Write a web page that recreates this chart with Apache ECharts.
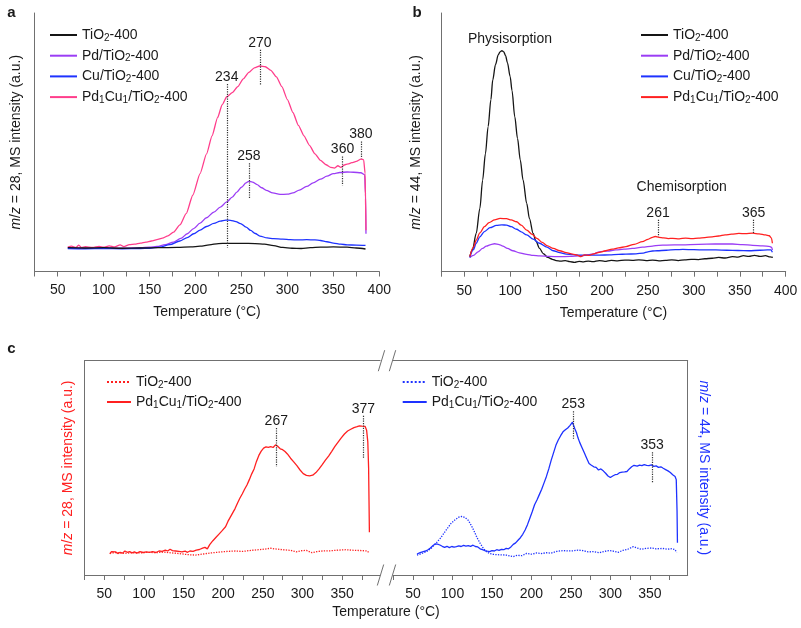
<!DOCTYPE html>
<html><head><meta charset="utf-8">
<script src="https://cdn.jsdelivr.net/npm/echarts@6/dist/echarts.min.js"></script>
<style>html,body{margin:0;padding:0;background:#fff}#c{width:801px;height:628px}</style>
</head><body><div id="c"></div>
<script>
// ---------------- DATA ----------------
// Panel a: m/z = 28, [temperature °C, intensity a.u.]
const aTiO2 = [[61,9.2],[80,9.1],[100,9.2],[120,9.0],[140,9.1],[160,9.2],[180,9.3],[195,9.5],[205,9.8],[215,10.3],[225,10.8],[234,10.9],[250,10.9],[265,10.8],[275,10.6],[285,10.0],[295,9.3],[305,9.0],[315,8.9],[325,9.2],[336,9.4],[350,9.5],[365,9.4],[375,9.1],[385,8.7]];
const aPd = [[61,9.1],[80,9.0],[100,9.1],[120,9.0],[140,9.2],[150,9.4],[158,9.7],[167,10.4],[176,11.4],[184,12.8],[191,14.6],[198,16.6],[205,18.7],[212,20.8],[220,23.0],[227,24.9],[234,26.9],[240,28.8],[245,30.7],[250,32.6],[255,34.3],[258,34.9],[262,34.6],[267,33.6],[272,32.4],[277,31.4],[284,30.4],[292,29.8],[300,29.9],[306,30.4],[313,31.5],[321,32.9],[328,34.3],[336,35.7],[343,36.9],[350,37.9],[357,38.3],[365,38.5],[372,38.4],[380,38.2],[384,37.5],[385,30],[385.5,14.6]];
const aCu = [[61,8.9],[80,8.8],[100,8.9],[120,8.8],[140,8.9],[150,9.0],[161,9.4],[172,10.4],[183,11.8],[191,13.1],[198,14.6],[205,16.0],[212,17.4],[220,18.6],[227,19.5],[233,19.9],[238,19.8],[244,19.3],[249,18.5],[255,17.2],[260,15.9],[265,14.7],[270,13.7],[278,13.0],[285,12.7],[295,12.5],[303,12.3],[312,12.2],[321,12.3],[330,12.2],[336,12.0],[343,11.5],[350,11.0],[358,10.6],[365,10.3],[375,10.2],[385,10.1]];
const aPdCu = [[61,9.4],[65,9.8],[70,9.3],[73,10.2],[76,9.2],[80,9.6],[88,9.3],[95,9.7],[100,9.4],[106,9.9],[112,9.5],[118,10.3],[122,9.6],[128,10.4],[134,10.6],[140,11.0],[146,11.4],[152,11.8],[158,12.3],[164,12.9],[170,13.8],[176,15.2],[183,18.0],[190,22.5],[197,29.5],[205,37.9],[212,45.5],[218,52.5],[224,59.5],[229,64.5],[234,67.6],[240,69.2],[246,71.5],[252,74.5],[258,77.0],[264,78.8],[270,79.5],[276,79.2],[282,77.8],[288,75.3],[294,71.5],[300,66.5],[306,61.5],[312,56.5],[318,52.5],[324,48.8],[330,45.5],[336,43.0],[342,41.3],[347,40.3],[351,40.0],[355,40.9],[358,40.3],[362,41.2],[366,41.6],[370,42.1],[375,42.6],[380,43.5],[383,43.2],[384.5,38.0],[385,28],[385.5,16]];
const aPeakT = [234, 258, 270, 360, 380];
const aPeakTop = [72.5, 41.9, 85.8, 44.5, 50.3];
const aPeakBottom = [9.2, 28.2, 72.1, 33.3, 43.7];

// Panel b: m/z = 44
const bTiO2 = [[56,5.8],[59,8.5],[63,14.8],[67,24.5],[70,35.4],[73,45.5],[76,56.1],[79,66.5],[81,74.1],[84,80.0],[87,83.8],[89,85.0],[91,85.4],[93,85.0],[95,83.5],[97,80.8],[100,75.4],[102,70.0],[105,59.9],[108,51.5],[111,43.2],[114,35.5],[118,26.4],[121,20.5],[125,14.8],[128,11.8],[132,9.0],[136,7.0],[141,5.5],[146,4.8],[150,4.3],[155,4.1],[160,4.3],[165,3.9],[170,3.6],[175,4.0],[180,3.8],[185,4.1],[190,3.9],[197,4.3],[203,4.0],[210,4.4],[217,4.2],[225,4.5],[233,4.4],[240,4.6],[248,4.3],[255,4.5],[262,4.2],[269,4.4],[276,4.6],[283,4.3],[290,4.6],[297,4.8],[305,4.7],[312,5.0],[320,5.2],[327,5.5],[334,5.3],[342,5.8],[348,5.6],[354,6.2],[360,5.9],[366,6.3],[372,5.9],[378,6.2],[383,5.7],[386,5.5]];
const bPd = [[56,5.5],[60,6.3],[65,7.7],[70,9.0],[74,9.9],[79,10.5],[83,10.8],[88,10.5],[92,9.9],[97,9.0],[103,8.1],[110,7.3],[118,6.7],[125,6.3],[132,6.1],[143,5.9],[154,5.8],[165,5.9],[176,6.1],[186,6.6],[192,7.0],[197,7.7],[206,8.0],[215,8.4],[224,8.7],[233,9.0],[244,9.5],[255,9.9],[262,10.2],[270,10.3],[287,10.4],[305,10.6],[323,10.7],[342,10.7],[353,10.5],[364,10.2],[375,10.0],[383,9.7],[385,9.3],[385.5,8.4]];
const bCu = [[56,5.5],[60,8.5],[63,11.0],[67,13.5],[72,15.5],[78,17.0],[85,17.9],[91,18.1],[96,18.0],[101,17.4],[107,16.4],[112,15.4],[118,14.2],[125,12.6],[132,11.0],[140,9.5],[147,8.1],[154,7.4],[161,6.8],[168,6.6],[176,6.4],[186,6.4],[197,6.4],[208,6.5],[218,6.7],[226,6.8],[237,6.9],[245,7.2],[250,7.7],[255,8.0],[260,8.1],[270,8.3],[280,8.5],[288,8.6],[300,8.5],[312,8.4],[324,8.4],[336,8.3],[348,8.2],[360,8.1],[372,8.3],[380,8.4],[384,8.4],[385.5,7.5]];
const bPdCu = [[56,5.8],[60,9.5],[63,12.2],[67,15.0],[72,17.4],[77,19.0],[83,20.0],[89,20.6],[96,20.5],[101,20.0],[107,19.3],[112,18.0],[118,16.1],[124,14.4],[129,12.9],[135,11.3],[140,10.1],[147,9.0],[154,8.1],[161,7.4],[168,6.8],[173,6.4],[177,5.8],[181,6.5],[186,6.3],[190,6.8],[197,7.5],[204,8.1],[211,8.7],[218,9.2],[226,9.7],[235,10.6],[244,11.6],[250,12.5],[255,13.3],[258,13.6],[262,13.3],[267,13.1],[272,12.8],[277,12.9],[284,12.7],[291,13.0],[298,12.8],[305,13.0],[312,13.2],[320,13.5],[327,13.8],[334,14.2],[341,14.5],[349,14.8],[356,14.7],[364,14.9],[371,14.6],[378,14.2],[382,13.9],[384.5,13.0],[385.5,11.0]];
const bPeakT = [261, 365];
const bPeakTop = [20.1, 20.1];
const bPeakBottom = [13.5, 14.8];

// Panel c left: m/z = 28
const cTiO2_28 = [[57,10.2],[65,10.5],[75,10.1],[85,10.4],[95,10.3],[105,10.6],[115,10.4],[125,10.7],[135,10.3],[145,10.0],[155,9.5],[165,9.3],[175,9.8],[185,10.3],[195,10.7],[205,11.0],[215,11.2],[225,11.0],[235,11.5],[245,11.8],[255,12.2],[260,12.5],[265,12.2],[275,11.8],[285,11.5],[292,10.8],[298,11.3],[305,11.5],[312,10.4],[318,10.9],[325,11.2],[335,11.3],[345,11.6],[355,11.8],[365,11.5],[375,11.4],[382,11.2],[384,10.2]];
const cPdCu_28 = [[57,9.8],[59,10.9],[61,10.1],[64,10.8],[67,10.0],[70,10.6],[73,10.2],[76,11.2],[79,10.6],[82,10.9],[85,10.3],[88,10.8],[91,10.2],[95,10.9],[99,10.5],[103,10.8],[107,10.6],[111,10.9],[115,10.5],[119,11.2],[123,11.0],[127,11.6],[130,11.2],[133,12.0],[136,11.4],[140,11.2],[144,11.0],[148,10.8],[152,11.1],[155,10.6],[158,11.2],[162,11.0],[166,11.6],[170,11.9],[174,12.5],[177,12.9],[180,12.2],[183,14.2],[187,16.0],[191,17.6],[195,19.2],[199,20.8],[203,22.5],[206,25.0],[209,27.0],[212,29.0],[215,31.0],[218,33.5],[221,35.8],[224,37.8],[227,40.0],[230,42.0],[233,44.5],[236,47.2],[239,49.5],[242,53.0],[245,55.8],[248,57.8],[251,59.2],[254,59.8],[257,59.6],[260,59.9],[263,59.5],[266,60.7],[269,60.0],[272,58.9],[275,58.5],[278,57.6],[281,56.5],[285,54.5],[289,52.8],[293,51.0],[297,49.0],[301,47.3],[305,46.5],[309,46.3],[313,46.6],[317,47.8],[321,49.5],[325,51.5],[329,53.6],[333,55.5],[337,57.7],[341,60.0],[345,62.0],[349,64.0],[353,65.8],[357,67.2],[361,68.0],[365,68.8],[369,69.2],[372,69.6],[375,69.5],[377,70.0],[379,69.4],[381,67.5],[382.5,62],[383.5,50],[384,35],[384.5,20]];
const cLPeakT = [267, 377];
const cLPeakTop = [68.6, 74.3];
const cLPeakBottom = [50.5, 54.4];

// Panel c right: m/z = 44
const cTiO2_44 = [[55,9.3],[61,10.0],[67,10.9],[73,12.5],[79,14.8],[85,17.3],[92,21.0],[98,24.0],[103,25.7],[108,27.0],[112,27.3],[116,26.8],[120,25.5],[124,23.0],[128,20.0],[131,17.5],[135,14.8],[139,12.5],[143,10.9],[147,10.0],[152,9.6],[160,9.4],[168,9.3],[173,8.9],[177,8.6],[182,9.2],[188,9.0],[194,10.1],[200,9.7],[207,10.3],[213,10.0],[219,10.4],[225,10.2],[232,11.0],[240,11.4],[247,11.2],[253,11.3],[259,11.6],[265,11.4],[272,10.8],[279,10.9],[286,10.4],[292,11.0],[298,11.4],[303,11.2],[310,10.6],[316,11.5],[322,12.0],[329,13.2],[334,12.6],[339,12.0],[345,12.4],[352,12.6],[358,12.2],[366,12.4],[372,12.0],[378,12.3],[382,11.8],[384,10.5]];
const cPdCu_44 = [[55,9.8],[57,9.2],[59,10.4],[61,9.6],[63,10.9],[66,11.2],[69,11.8],[72,12.6],[75,13.6],[78,14.5],[81,14.4],[84,14.0],[87,13.4],[90,12.9],[93,13.4],[96,12.8],[99,13.3],[102,13.0],[105,13.2],[108,13.6],[111,13.3],[114,13.8],[117,13.5],[120,13.7],[123,13.4],[126,13.9],[129,13.3],[132,13.1],[135,12.2],[138,11.8],[141,11.4],[144,11.1],[147,10.9],[150,11.4],[153,11.2],[156,11.8],[159,11.5],[162,12.0],[165,11.8],[168,12.4],[171,12.2],[174,13.1],[177,14.3],[180,15.0],[183,16.2],[186,17.4],[189,19.0],[192,21.0],[195,23.5],[198,26.5],[201,29.5],[204,32.8],[207,35.0],[210,37.5],[213,40.0],[216,43.0],[219,46.0],[222,49.5],[225,53.5],[228,57.0],[231,60.5],[234,63.0],[237,65.0],[240,66.8],[243,67.8],[246,68.6],[249,69.8],[251,70.3],[252,71.3],[253,70.2],[255,68.2],[257,66.5],[259,64.0],[261,62.0],[264,59.5],[267,57.0],[270,54.5],[273,52.0],[276,51.2],[279,50.5],[282,50.2],[285,49.0],[288,49.5],[291,48.6],[294,47.5],[297,46.2],[300,45.5],[303,46.2],[306,46.8],[309,47.0],[312,47.8],[315,48.0],[318,48.1],[321,48.3],[324,49.5],[327,50.5],[330,51.2],[332,51.8],[334,50.8],[337,51.3],[340,51.0],[343,51.5],[346,51.2],[349,51.0],[352,51.4],[355,50.7],[358,50.9],[361,50.2],[364,50.5],[367,49.8],[370,49.2],[373,48.6],[376,47.8],[379,46.8],[382,46.0],[383.5,44.5],[384.5,30],[385,15]];
const cRPeakT = [253, 353];
const cRPeakTop = [76.4, 57.3];
const cRPeakBottom = [63.0, 43.1];

// Axis ticks / labels
const ticksAB = [25,50,75,100,125,150,175,200,225,250,275,300,325,350,375,400];
const labelsAB = [50,100,150,200,250,300,350,400];
const ticksC = [25,50,75,100,125,150,175,200,225,250,275,300,325,350,375];
const labelsC = [50,100,150,200,250,300,350];

// Legend labels (rich text: {s|..} is subscript)
const legendLabels = {
  aT: 'TiO{s|2}-400', aPd: 'Pd/TiO{s|2}-400', aCu: 'Cu/TiO{s|2}-400', aPdCu: 'Pd{s|1}Cu{s|1}/TiO{s|2}-400',
  bT: 'TiO{s|2}-400', bPd: 'Pd/TiO{s|2}-400', bCu: 'Cu/TiO{s|2}-400', bPdCu: 'Pd{s|1}Cu{s|1}/TiO{s|2}-400',
  cLT: 'TiO{s|2}-400', cLPdCu: 'Pd{s|1}Cu{s|1}/TiO{s|2}-400',
  cRT: 'TiO{s|2}-400', cRPdCu: 'Pd{s|1}Cu{s|1}/TiO{s|2}-400'
};

// ---------------- CHART ----------------
const FONT = '"Liberation Sans", Arial, Helvetica, sans-serif';
const TXT = '#1a1a1a';
const AX = '#707070';
const C_BLACK = '#151515', C_PURPLE = '#9B3DF5', C_BLUE = '#1E32FF', C_PINK = '#FF3D8B', C_RED = '#FF2020';

const chart = echarts.init(document.getElementById('c'), null, {renderer: 'canvas'});

function xAx(gi, max, ticks, labels, extra) {
  return Object.assign({
    gridIndex: gi, type: 'value', min: 25, max: max,
    axisLine: {show: true, lineStyle: {color: AX, width: 1}},
    axisTick: {show: true, customValues: ticks, length: 5, lineStyle: {color: AX}},
    axisLabel: {show: true, customValues: labels, fontSize: 14, color: TXT, fontFamily: FONT, margin: 12},
    splitLine: {show: false}
  }, extra || {});
}
function topAx(gi, max) {
  return {gridIndex: gi, type: 'value', min: 25, max: max, position: 'top',
    axisLine: {show: true, lineStyle: {color: AX}}, axisTick: {show: false}, axisLabel: {show: false}, splitLine: {show: false}};
}
function yAx(gi, name, gap, color, pos, rot) {
  return {gridIndex: gi, type: 'value', min: 0, max: 100, position: pos || 'left',
    axisLine: {show: true, lineStyle: {color: AX}}, axisTick: {show: false}, axisLabel: {show: false}, splitLine: {show: false},
    name: name, nameLocation: 'middle', nameGap: gap, nameRotate: rot || 90,
    nameTextStyle: {fontSize: 14, color: color, fontFamily: FONT, rich: {i: {fontStyle: 'italic', fontSize: 14, color: color, fontFamily: FONT}}}};
}
function line(name, data, color, xi, yi, opts) {
  opts = opts || {};
  return {type: 'line', name: name, data: data, xAxisIndex: xi, yAxisIndex: yi,
    symbol: 'none', showSymbol: false, smooth: opts.smooth || false, smoothMonotone: 'x',
    lineStyle: {color: color, width: 1.3, type: opts.type || 'solid'}, itemStyle: {color: color},
    animation: false, z: opts.z || 2, markLine: opts.markLine};
}
function peaks(T, top, bottom) {
  return {silent: true, symbol: ['none', 'none'], animation: false,
    lineStyle: {type: 'dotted', color: '#333', width: 1.2},
    label: {show: true, position: 'start', formatter: '{b}', distance: 0, fontSize: 14, color: TXT, fontFamily: FONT},
    data: T.map((t, i) => [{coord: [t, top[i]], name: String(t)}, {coord: [t, bottom[i]]}])};
}
function legend(left, top, names, iw, gap) {
  return {left: left, top: top, orient: 'vertical', itemWidth: iw, itemHeight: 14, itemGap: gap, selectedMode: false,
    data: names, formatter: n => legendLabels[n],
    itemStyle: {opacity: 0, color: 'rgba(0,0,0,0)', borderWidth: 0},
    textStyle: {fontSize: 14, color: TXT, fontFamily: FONT, lineHeight: 16,
      rich: {s: {fontSize: 10, lineHeight: 10, verticalAlign: 'bottom', color: TXT, fontFamily: FONT}}}};
}

const slash = (x, y) => ({type: 'line', shape: {x1: x - 3.2, y1: y + 10.5, x2: x + 3.2, y2: y - 10.5}, style: {stroke: AX, lineWidth: 1}});
const txt = (x, y, t, extra) => ({type: 'text', x: x, y: y, style: Object.assign({text: t, fill: TXT, font: '14px ' + FONT, textAlign: 'center', textVerticalAlign: 'middle'}, extra || {})});

chart.setOption({
  backgroundColor: '#fff',
  animation: false,
  textStyle: {fontFamily: FONT},
  grid: [
    {left: 34.7, top: 13, width: 344.6, height: 258.5},
    {left: 441.3, top: 13, width: 344.4, height: 258.7},
    {left: 84.5, top: 360.7, width: 295.6, height: 214.3},
    {left: 393.3, top: 360.7, width: 294.4, height: 214.3}
  ],
  xAxis: [
    xAx(0, 400, ticksAB, labelsAB, {name: 'Temperature (°C)', nameLocation: 'middle', nameGap: 34, nameTextStyle: {fontSize: 14, color: TXT, fontFamily: FONT}}),
    xAx(1, 400, ticksAB, labelsAB, {name: 'Temperature (°C)', nameLocation: 'middle', nameGap: 34, nameTextStyle: {fontSize: 14, color: TXT, fontFamily: FONT}}),
    xAx(2, 398, ticksC, labelsC),
    xAx(3, 398, ticksC, labelsC),
    topAx(2, 398),
    topAx(3, 398)
  ],
  yAxis: [
    yAx(0, '{i|m}/{i|z} = 28, MS intensity (a.u.)', 12, TXT),
    yAx(1, '{i|m}/{i|z} = 44, MS intensity (a.u.)', 18, TXT),
    yAx(2, '{i|m}/{i|z} = 28, MS intensity (a.u.)', 9, C_RED),
    yAx(3, '{i|m}/{i|z} = 44, MS intensity (a.u.)', 9, C_BLUE, 'right', -90)
  ],
  legend: [
    legend(44, 22, ['aT', 'aPd', 'aCu', 'aPdCu'], 27, 4.7),
    legend(635, 22, ['bT', 'bPd', 'bCu', 'bPdCu'], 27, 4.7),
    legend(101, 369, ['cLT', 'cLPdCu'], 24, 4),
    legend(396.7, 369, ['cRT', 'cRPdCu'], 24, 4)
  ],
  series: [
    line('aT', aTiO2, C_BLACK, 0, 0, {smooth: 0.3, markLine: peaks(aPeakT, aPeakTop, aPeakBottom), z: 3}),
    line('aPd', aPd, C_PURPLE, 0, 0, {smooth: 0.3}),
    line('aCu', aCu, C_BLUE, 0, 0, {smooth: 0.3}),
    line('aPdCu', aPdCu, C_PINK, 0, 0, {smooth: 0.2}),
    line('bT', bTiO2, C_BLACK, 1, 1, {smooth: 0.3, markLine: peaks(bPeakT, bPeakTop, bPeakBottom)}),
    line('bPd', bPd, C_PURPLE, 1, 1, {smooth: 0.3}),
    line('bCu', bCu, C_BLUE, 1, 1, {smooth: 0.3}),
    line('bPdCu', bPdCu, C_RED, 1, 1, {smooth: 0.3}),
    line('cLT', cTiO2_28, C_RED, 2, 2, {type: 'dotted', markLine: peaks(cLPeakT, cLPeakTop, cLPeakBottom)}),
    line('cLPdCu', cPdCu_28, C_RED, 2, 2),
    line('cRT', cTiO2_44, C_BLUE, 3, 3, {type: 'dotted', markLine: peaks(cRPeakT, cRPeakTop, cRPeakBottom)}),
    line('cRPdCu', cPdCu_44, C_BLUE, 3, 3)
  ],
  graphic: [
    txt(11.5, 12.5, 'a', {font: 'bold 15px ' + FONT}),
    txt(417, 12.5, 'b', {font: 'bold 15px ' + FONT}),
    txt(11.5, 349, 'c', {font: 'bold 15px ' + FONT}),
    txt(510, 39, 'Physisorption'),
    txt(681.7, 186.7, 'Chemisorption'),
    txt(386, 611.7, 'Temperature (°C)'),
    slash(381.5, 360.7), slash(392.5, 360.7),
    slash(380.5, 575), slash(392.5, 575)
  ]
});
</script></body></html>
